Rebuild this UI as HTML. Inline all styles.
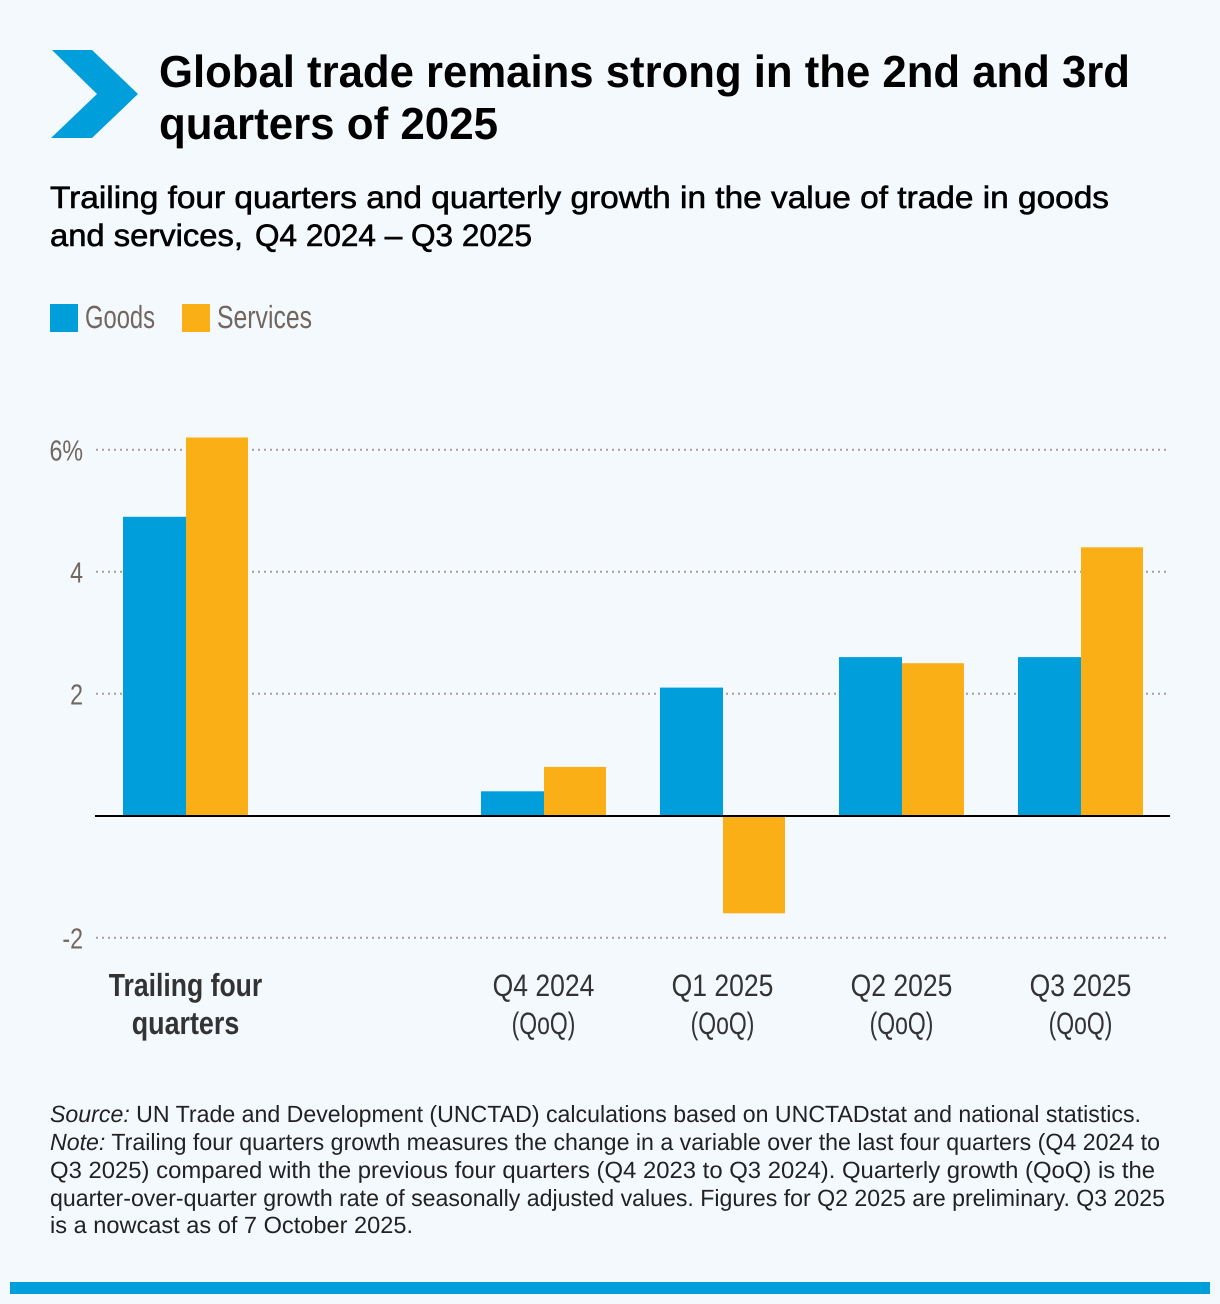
<!DOCTYPE html>
<html lang="en">
<head>
<meta charset="utf-8">
<title>Global trade remains strong</title>
<style>
html,body{margin:0;padding:0;background:#f4f9fe;width:1220px;height:1304px;overflow:hidden}
svg{display:block;font-family:"Liberation Sans",sans-serif;text-rendering:geometricPrecision}
</style>
</head>
<body>
<svg id="chart" xmlns="http://www.w3.org/2000/svg" width="1220" height="1304" viewBox="0 0 1220 1304">
  <rect x="0" y="0" width="1220" height="1304" fill="#f4f9fe"/>
  <polygon points="52,50 92,50 138,94 92,138 51,138 97,94" fill="#009edb"/>
  <g font-size="45" font-weight="700" fill="#000">
    <text x="159" y="87" textLength="971" lengthAdjust="spacingAndGlyphs">Global trade remains strong in the 2nd and 3rd</text>
    <text x="159" y="139" textLength="339" lengthAdjust="spacingAndGlyphs">quarters of 2025</text>
  </g>
  <g font-size="31" fill="#000" stroke="#000" stroke-width="0.6">
    <text x="50" y="208" textLength="1059" lengthAdjust="spacingAndGlyphs">Trailing four quarters and quarterly growth in the value of trade in goods</text>
    <text x="50" y="246" textLength="193" lengthAdjust="spacingAndGlyphs">and services,</text>
    <text x="255" y="246" textLength="277" lengthAdjust="spacingAndGlyphs">Q4 2024 – Q3 2025</text>
  </g>
  <g font-size="32" fill="#72675f">
    <rect x="50" y="304" width="28" height="28" fill="#009edb"/>
    <text x="85" y="328" textLength="70" lengthAdjust="spacingAndGlyphs">Goods</text>
    <rect x="182" y="304" width="28" height="28" fill="#fbaf17"/>
    <text x="217" y="328" textLength="95" lengthAdjust="spacingAndGlyphs">Services</text>
  </g>
  <g id="grid"></g>
  <g id="ticks"></g>
  <g id="bars"></g>
  <line x1="95" x2="1170" y1="816" y2="816" stroke="#000" stroke-width="2"/>
  <g id="cats"></g>
  <g font-size="23.5" fill="#222">
    <text x="50" y="1122" textLength="1091" lengthAdjust="spacingAndGlyphs"><tspan font-style="italic">Source:</tspan> UN Trade and Development (UNCTAD) calculations based on UNCTADstat and national statistics.</text>
    <text x="50" y="1150" textLength="1110" lengthAdjust="spacingAndGlyphs"><tspan font-style="italic">Note:</tspan> Trailing four quarters growth measures the change in a variable over the last four quarters (Q4 2024 to</text>
    <text x="50" y="1178" textLength="1105" lengthAdjust="spacingAndGlyphs">Q3 2025) compared with the previous four quarters (Q4 2023 to Q3 2024). Quarterly growth (QoQ) is the</text>
    <text x="50" y="1206" textLength="1115" lengthAdjust="spacingAndGlyphs">quarter-over-quarter growth rate of seasonally adjusted values. Figures for Q2 2025 are preliminary. Q3 2025</text>
    <text x="50" y="1233" textLength="363" lengthAdjust="spacingAndGlyphs">is a nowcast as of 7 October 2025.</text>
  </g>
  <rect x="10" y="1282" width="1200" height="12" fill="#009edb"/>
</svg>
<script>
var categories = ["Trailing four quarters", "", "Q4 2024 (QoQ)", "Q1 2025 (QoQ)", "Q2 2025 (QoQ)", "Q3 2025 (QoQ)"];
var goods = [4.9, null, 0.4, 2.1, 2.6, 2.6];
var services = [6.2, null, 0.8, -1.6, 2.5, 4.4];
var yTicks = [6, 4, 2, -2];
var yTickLabels = ["6%", "4", "2", "-2"];
var catLine1 = ["Trailing four", "", "Q4 2024", "Q1 2025", "Q2 2025", "Q3 2025"];
var catLine2 = ["quarters", "", "(QoQ)", "(QoQ)", "(QoQ)", "(QoQ)"];

var NS = "http://www.w3.org/2000/svg";
function yScale(v) { return 815.7 - v * 61; }
function xCenter(i) { return 186 + i * 179; }
var goodsWidth = 63;
var servicesWidth = 62;

var gridG = document.getElementById("grid");
var ticksG = document.getElementById("ticks");
var barsG = document.getElementById("bars");
var catsG = document.getElementById("cats");

yTicks.forEach(function (t, i) {
  var line = document.createElementNS(NS, "line");
  
  
  line.setAttribute("x1", 96);
  line.setAttribute("x2", 1168);
  line.setAttribute("y1", yScale(t));
  line.setAttribute("y2", yScale(t));
  line.setAttribute("stroke", "#a89f97");
  line.setAttribute("stroke-width", 2);
  line.setAttribute("stroke-dasharray", "2 4");
  gridG.appendChild(line);

  var label = document.createElementNS(NS, "text");
  
  
  label.setAttribute("transform", "translate(83," + (yScale(t) + 10.8) + ") scale(0.8,1)");
  label.setAttribute("text-anchor", "end");
  label.setAttribute("font-size", 29);
  label.setAttribute("fill", "#72675f");
  label.textContent = yTickLabels[i];
  ticksG.appendChild(label);
});

function drawBar(value, x, w, fill, name) {
  if (value === null) return;
  var top = Math.min(yScale(value), yScale(0));
  var h = Math.abs(yScale(value) - yScale(0));
  var r = document.createElementNS(NS, "rect");
  
  
  r.setAttribute("x", x);
  r.setAttribute("y", top);
  r.setAttribute("width", w);
  r.setAttribute("height", h);
  r.setAttribute("fill", fill);
  barsG.appendChild(r);
}

categories.forEach(function (c, i) {
  var cx = xCenter(i);
  drawBar(goods[i], cx - goodsWidth, goodsWidth, "#009edb", "bar-goods");
  drawBar(services[i], cx, servicesWidth, "#fbaf17", "bar-services");
  [catLine1[i], catLine2[i]].forEach(function (txt, k) {
    if (!txt) return;
    var bold = i === 0;
    var sx = bold ? (k === 0 ? 0.83 : 0.84) : (k === 0 ? 0.855 : 0.74);
    var t = document.createElementNS(NS, "text");
    
    
    t.setAttribute("transform", "translate(" + (cx - 0.5) + "," + (996 + k * 38) + ") scale(" + sx + ",1)");
    t.setAttribute("text-anchor", "middle");
    t.setAttribute("font-size", bold ? 32 : 31);
    t.setAttribute("fill", "#333");
    if (bold) t.setAttribute("font-weight", "700");
    t.textContent = txt;
    catsG.appendChild(t);
  });
});
</script>
</body>
</html>
